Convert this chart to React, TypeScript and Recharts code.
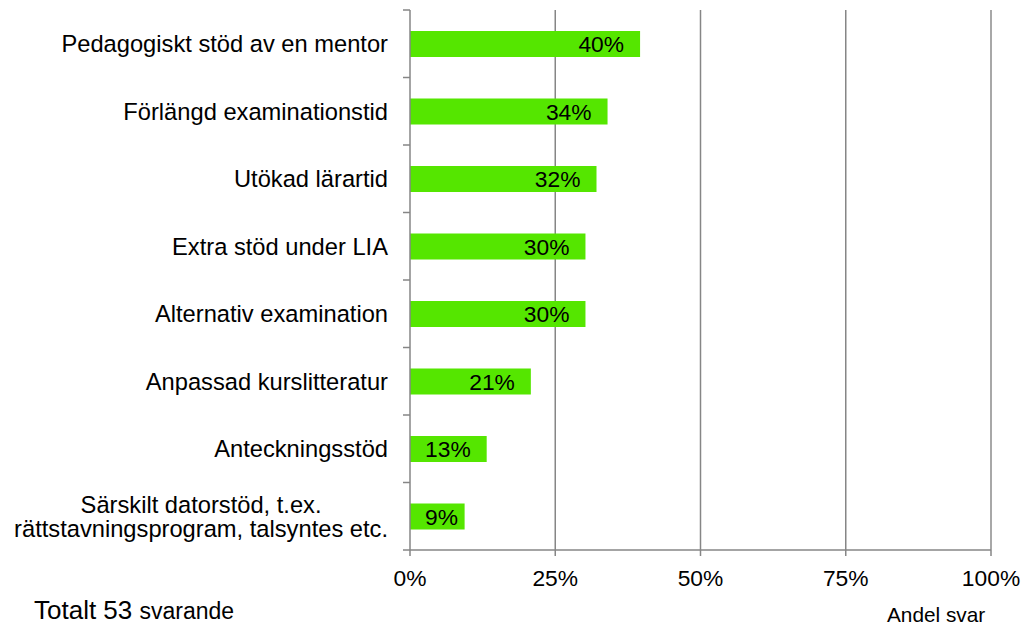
import React from "react";
import {
  BarChart,
  Bar,
  XAxis,
  YAxis,
  CartesianGrid,
  ReferenceLine,
  LabelList,
} from "recharts";

const CATEGORIES = [
  "Pedagogiskt stöd av en mentor",
  "Förlängd examinationstid",
  "Utökad lärartid",
  "Extra stöd under LIA",
  "Alternativ examination",
  "Anpassad kurslitteratur",
  "Anteckningsstöd",
  "Särskilt datorstöd, t.ex.\nrättstavningsprogram, talsyntes etc.",
];
const SHARES = [0.396, 0.34, 0.321, 0.302, 0.302, 0.208, 0.132, 0.094];
const X_TICKS = [0, 0.25, 0.5, 0.75, 1];

const FONT = "'Liberation Sans', Arial, sans-serif";
const GREEN = "#55e600";
const AXIS = "#868686";
const CAT_SIZE = 23.7;
const NUM_SIZE = 22.8;

const W = 1024;
const H = 627;
const M = { top: 10, right: 33, bottom: 47, left: 0 };
const Y_AXIS_W = 410;
const X_AXIS_H = 30;
const PLOT_H = H - M.top - M.bottom - X_AXIS_H;
const BAND = PLOT_H / CATEGORIES.length;

const data = CATEGORIES.map((name, i) => ({ name, value: SHARES[i] }));

let ctx: CanvasRenderingContext2D | null = null;
function textWidth(s: string, size: number) {
  if (!ctx) ctx = document.createElement("canvas").getContext("2d");
  if (!ctx) return s.length * size * 0.5;
  ctx.font = `${size}px 'Liberation Sans', Arial, sans-serif`;
  return ctx.measureText(s).width;
}

function CategoryTick({ x, y, payload, index }: any) {
  const lines = String(payload.value).split("\n");
  const axisX = x + 22;
  const widest = Math.max(...lines.map((l) => textWidth(l, CAT_SIZE)));
  const cx = x - widest / 2;
  const lh = 23.5;
  const first = y - ((lines.length - 1) * lh) / 2;
  return (
    <g>
      <line x1={axisX - 7} x2={axisX} y1={y - BAND / 2} y2={y - BAND / 2} stroke={AXIS} strokeWidth={1.5} />
      {index === CATEGORIES.length - 1 && (
        <line x1={axisX - 7} x2={axisX} y1={y + BAND / 2} y2={y + BAND / 2} stroke={AXIS} strokeWidth={1.5} />
      )}
      {lines.map((l, i) => (
        <text
          key={i}
          x={lines.length > 1 ? cx : x}
          y={first + i * lh}
          dy="0.36em"
          textAnchor={lines.length > 1 ? "middle" : "end"}
          fontSize={CAT_SIZE}
          fontFamily={FONT}
          fill="#000"
        >
          {l}
        </text>
      ))}
    </g>
  );
}

function ValueLabel({ x, y, width, height, value }: any) {
  const txt = `${Math.round(value * 100)}%`;
  const tw = textWidth(txt, NUM_SIZE);
  const right = Math.max(x + width - 16, x + 15 + tw);
  return (
    <text
      x={right}
      y={y + height / 2}
      dy="0.36em"
      textAnchor="end"
      fontSize={NUM_SIZE}
      fontFamily={FONT}
      fill="#000"
    >
      {txt}
    </text>
  );
}

export default function App() {
  return (
    <div style={{ position: "absolute", left: 0, top: 0, width: W, height: H, background: "#fff", fontFamily: FONT }}>
      <BarChart width={W} height={H} data={data} layout="vertical" margin={M} barCategoryGap={0}>
        <CartesianGrid horizontal={false} vertical verticalValues={[0.25, 0.5, 0.75]} stroke={AXIS} strokeWidth={1.5} />
        <XAxis
          type="number"
          domain={[0, 1]}
          ticks={X_TICKS}
          height={X_AXIS_H}
          tickFormatter={(v) => `${Math.round(v * 100)}%`}
          tick={{ fontSize: NUM_SIZE, fontFamily: FONT, fill: "#000" }}
          tickSize={6}
          tickMargin={14}
          axisLine={{ stroke: AXIS, strokeWidth: 1.5 }}
          tickLine={{ stroke: AXIS, strokeWidth: 1.5 }}
          interval={0}
        />
        <XAxis
          xAxisId="top"
          orientation="top"
          type="number"
          domain={[0, 1]}
          height={0}
          tick={false}
          tickLine={false}
          axisLine={{ stroke: "#b4b4b4", strokeWidth: 1.5 }}
        />
        <YAxis
          type="category"
          dataKey="name"
          width={Y_AXIS_W}
          tickSize={0}
          tickMargin={22}
          tickLine={false}
          axisLine={{ stroke: AXIS, strokeWidth: 1.5 }}
          tick={<CategoryTick />}
          interval={0}
        />
        <ReferenceLine x={1} stroke="#a8a8a8" strokeWidth={2} ifOverflow="visible" />
        <Bar dataKey="value" fill={GREEN} barSize={26} isAnimationActive={false}>
          <LabelList dataKey="value" content={<ValueLabel />} />
        </Bar>
      </BarChart>
      <div style={{ position: "absolute", left: 34, top: 596, fontSize: 26, color: "#000", whiteSpace: "nowrap", lineHeight: "29px" }}>
        Totalt 53 <span style={{ fontSize: 23 }}>svarande</span>
      </div>
      <div style={{ position: "absolute", left: 887, top: 603, fontSize: 20.8, color: "#000", whiteSpace: "nowrap", lineHeight: "24px" }}>
        Andel svar
      </div>
    </div>
  );
}
